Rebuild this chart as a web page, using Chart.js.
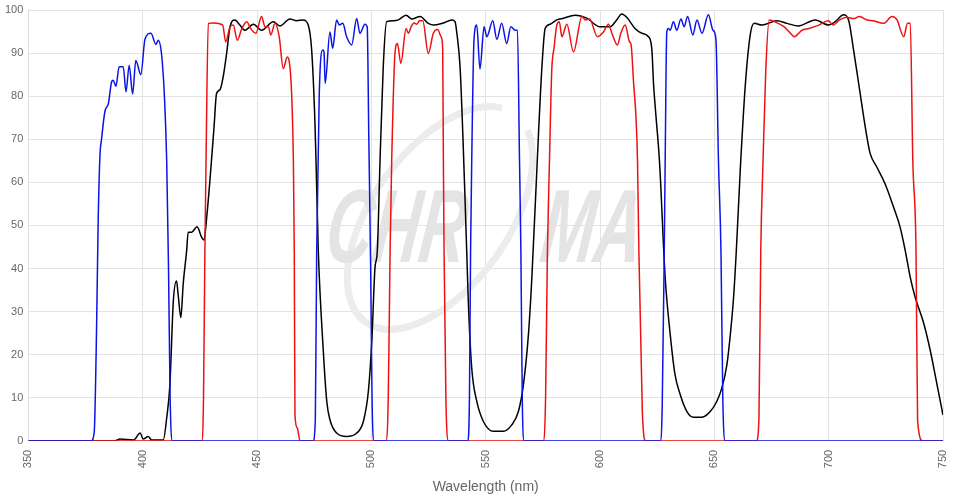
<!DOCTYPE html>
<html>
<head>
<meta charset="utf-8">
<script src="https://cdn.jsdelivr.net/npm/chart.js@4.4.1/dist/chart.umd.min.js"></script>
<style>
  html, body { margin: 0; padding: 0; background: #fff; }
  #wrap { width: 957px; height: 501px; }
</style>
</head>
<body>
<div id="wrap"><canvas id="spectrumChart"></canvas></div>
<script>
// transmission curves, wavelength (nm) / transmission (%)
const blueWl = [350, 377.5, 378.8, 379.8, 380.5, 381.3, 382, 383.5, 385, 386.4, 387.1, 388.3, 389.7, 391.5, 392.7, 394.1, 395.6, 397, 399.2, 401, 403.6, 405.8, 406.8, 408.3, 409.5, 410.5, 411.3, 412, 413,
  474.5, 475.5, 476.1, 477.2, 478.7, 479.3, 479.8, 481.9, 483.1, 484.8, 486, 487.5, 489.2, 491.4, 493.6, 495, 497.2, 498.2, 498.9, 499.7, 500.3, 501.2,
  542.2, 542.9, 543.4, 543.9, 544.9, 546.1, 547.5, 549.3, 550.5, 553.1, 554.9, 557, 559.2, 561, 562.9, 563.9, 564.8, 565.4, 566, 566.8,
  626.4, 627.2, 628.1, 628.5, 629.2, 629.9, 630.7, 632.1, 633.6, 635.4, 636.8, 638.3, 640.6, 642.4, 644.6, 647.4, 649.4, 650.7, 651.8, 652.9, 653.7, 654.7, 750];
const blueT = [0, 0, 2, 25, 50, 66, 70, 76.5, 78.3, 83.3, 83.7, 82.3, 86.8, 86.8, 81, 87.2, 80.5, 88.3, 85, 93.2, 94.6, 92, 93, 89.5, 80, 65, 40, 10, 0,
  0, 5, 44, 80, 90.7, 90.3, 83, 94.9, 91.1, 97.7, 96.5, 96.9, 93.8, 91.9, 98, 94.6, 96.7, 96, 70, 40, 10, 0,
  0, 10, 44, 65, 93.2, 96.5, 86.3, 96.1, 93.8, 97.5, 93.2, 96.9, 92.2, 96.1, 95.3, 95.3, 65, 44, 10, 0,
  0, 8, 44, 65, 94.9, 95.7, 95.3, 97.3, 95.3, 97.9, 96.1, 98.5, 94.2, 97.7, 94.6, 98.9, 95.3, 93.2, 65, 44, 10, 0, 0];

const redWl = [350, 425.8, 426.6, 427.2, 427.7, 428.7, 430.9, 435, 436.3, 438.2, 439.6, 441.4, 443.3, 445.5, 447.2, 449.5, 452, 453.5, 455, 456, 457.9, 459.7, 461.5, 463.2, 464.1, 465.9, 466.3, 466.6, 467.6, 468.8,
  506.4, 507.4, 508.2, 508.9, 510.4, 511.4, 512.9, 515.2, 516.2, 517.4, 518.7, 519.9, 521, 522.5, 524.9, 527.1, 529, 530.5, 531.2, 531.5, 531.8, 532.6, 533.7,
  575.2, 576.2, 577, 577.9, 578.9, 579.9, 581.1, 582.2, 583.3, 585.5, 588.4, 592.1, 593.5, 595.4, 598.9, 601.5, 603.7, 605.2, 607.6, 609.1, 611, 612.9, 613.6, 614.7, 615.8, 616.4, 617, 618.5, 620,
  668.4, 669.5, 670.3, 671.3, 672.5, 674, 676.2, 680.6, 682.8, 685, 688.3, 691.4, 695.7, 699.8, 701.9, 704.8, 707.9, 710.9, 713.5, 716.7, 719.6, 724, 727.7, 729.9, 732.8, 734.5, 735.7, 736.8, 738.2, 738.9, 741.2, 750];
const redT = [0, 0, 10, 44, 65, 96.9, 97, 96.5, 92.6, 96.1, 96.5, 93, 95.6, 97.3, 95.7, 94.6, 98.5, 96.1, 96.1, 94.2, 96.9, 93.8, 86.4, 89.1, 88, 65, 44, 6, 3, 0,
  0, 10, 44, 65, 90.3, 92.2, 87.6, 95.7, 94.6, 96.1, 97, 96.7, 97.5, 97.5, 89.9, 94.6, 95.5, 93.8, 91.2, 65, 44, 10, 0,
  0, 10, 44, 65, 86, 91.2, 96.5, 97.3, 93.8, 96.7, 90.3, 98.5, 97.7, 97.9, 93.8, 94.9, 96.7, 94.6, 91.9, 94.6, 96.5, 92.6, 91.9, 83, 74.4, 65, 44, 7, 0,
  0, 5, 44, 65, 86, 97.7, 97.3, 96.1, 94.9, 93.8, 95.3, 95.7, 96.5, 97.5, 96.5, 97.7, 98.3, 98, 98.5, 97.7, 97.5, 96.9, 98.5, 97.7, 93.8, 96.9, 96.9, 65, 44, 4.5, 0, 0];

const blackWl = [350, 388, 390, 396, 398.9, 400.2, 402.4, 403.9, 409, 410.5, 411.9, 413.4, 414.8, 415.5, 416.7, 417.7, 419.2, 419.9, 421.4, 423.8, 425.8, 426.8, 428, 429.4, 431.2, 432.3, 433.8, 435.2, 436.7, 438.2, 440.3, 442.5, 444.7, 448.4, 452, 457.1, 460, 464.4, 467.3, 470.2, 472.4, 473.9, 475.3, 475.8, 476.8,
  479, 480.5, 481.9, 484.8, 489.2, 493.6, 496.5, 498.7, 500.2, 501.6, 502.6, 503.8, 505.2, 506.7, 509.6, 511.8, 515.2, 517.7, 521.3, 524.9, 527.1, 531.5, 535.2, 536.6, 537.4, 538.8, 540, 541, 541.7,
  542.4, 543.9, 546.1, 549, 553.4, 557.7, 561.4, 564.3, 566.5, 568.7, 570.2, 573.1, 574.6, 576, 578.2, 581.1, 584, 589.1, 594.2, 600, 604.4, 607.3, 609.5, 611.7, 615.3, 618.3, 621.2, 622.7, 623.4, 624.5, 626,
  628.5, 630.7, 632.8, 635.1, 638, 640.9, 644.6, 648.2, 651.1, 653.3, 655.5, 657, 658.4, 659.6, 661.4, 663.6, 665.8, 667.5, 670.8, 677.4, 681.8, 686.8, 694.1, 700, 702.9, 706.5, 708.7, 710.9, 713.1, 715.3, 717, 718.2, 721.1, 724.7, 728.4, 731.3, 733.5, 735.7, 737.9, 741.5, 744.5, 747.4, 750];
const blackT = [0, 0, 0.4, 0.2, 1.8, 0.4, 1, 0.2, 0.2, 5.3, 13, 32.4, 37.1, 34, 28.6, 36.3, 44, 48.4, 48.4, 49.7, 47.2, 46.6, 51.9, 60.4, 72.8, 80.6, 81.5, 84.5, 89.9, 96.1, 97.7, 96.5, 95.3, 96.7, 95.3, 97.3, 96.3, 97.9, 97.5, 97.7, 96.5, 90.7, 74.4, 65, 44.1,
  20.8, 9.2, 4.9, 1.8, 1, 1.8, 4.5, 11.5, 23.1, 40.2, 44, 65, 86.8, 97.3, 97.5, 97.7, 98.8, 97.9, 98.5, 96.9, 96.5, 97, 97.7, 97.3, 94.6, 86.8, 71.3, 55.7, 44.1,
  32.4, 16.9, 9.2, 4.5, 2.2, 2.2, 3.7, 6.8, 13, 24.7, 37.9, 71.3, 86.8, 95.7, 96.7, 97.7, 98.1, 98.8, 98.1, 96.1, 96.1, 97.7, 99.1, 98.3, 95.7, 94.6, 93.8, 90.7, 83, 75.2, 65,
  37.9, 24.7, 15.4, 10.7, 6.8, 5.5, 5.5, 6.8, 9.2, 12.3, 17.7, 24.7, 33.2, 44, 63.5, 83, 94.6, 96.9, 96.5, 97.5, 96.9, 96.3, 97.7, 96.5, 97.3, 98.9, 97.7, 90.7, 83, 75.2, 69.7, 66.6, 63.5, 59.6, 54.2, 49.5, 44.1, 37.9, 33.2, 27.4, 20.8, 13, 6];

const xTicks = [350, 400, 450, 500, 550, 600, 650, 700, 750];

function toPoints(wl, t) {
  return wl.map((w, i) => ({ x: w, y: t[i] }));
}

// faint logo behind the curves
const watermark = {
  id: 'watermark',
  beforeDatasetsDraw(chart) {
    const c = chart.ctx;
    c.save();
    c.strokeStyle = '#ececec';
    c.lineWidth = 7;
    c.beginPath();
    c.ellipse(440, 218, 128, 68, -0.95, 0.3, 2 * Math.PI - 0.2);
    c.stroke();
    c.fillStyle = '#e4e4e4';
    c.font = 'italic bold 104px "Liberation Sans"';
    c.textBaseline = 'alphabetic';
    c.setTransform(0.62, 0, -0.12, 1, 0, 0);
    c.fillText('CHR', 330 / 0.62 + 40, 262);
    c.fillText('MA', 545 / 0.62 + 40, 262);
    c.setTransform(1, 0, 0, 1, 0, 0);
    c.font = '14px "Liberation Sans"';
    c.fillText('\u00AE', 626, 204);
    c.restore();
  }
};

const ctx = document.getElementById('spectrumChart').getContext('2d');
const spectrumChart = new Chart(ctx, {
  type: 'scatter',
  data: {
    datasets: [
      { data: toPoints(blueWl, blueT), borderColor: '#0a14e6' },
      { data: toPoints(redWl, redT), borderColor: '#ee1111' },
      { data: toPoints(blackWl, blackT), borderColor: '#000000' }
    ]
  },
  options: {
    responsive: true,
    maintainAspectRatio: false,
    animation: false,
    layout: { padding: { left: 0, right: 0, top: 0, bottom: 5 } },
    elements: {
      point: { radius: 0 },
      line: { borderWidth: 1.5, cubicInterpolationMode: 'monotone' }
    },
    datasets: { scatter: { showLine: true } },
    plugins: {
      legend: { display: false },
      tooltip: { enabled: false }
    },
    scales: {
      x: {
        type: 'linear',
        min: 350,
        max: 750,
        afterBuildTicks: (axis) => { axis.ticks = xTicks.map(v => ({ value: v })); },
        afterFit: (axis) => { axis.paddingRight = 14; },
        ticks: { minRotation: 90, maxRotation: 90, padding: 9, color: '#666', font: { family: 'Liberation Sans', size: 11 } },
        grid: { color: '#e3e3e3', drawTicks: false },
        border: { color: '#dcdcdc' },
        title: { display: true, text: 'Wavelength (nm)', color: '#666', font: { family: 'Liberation Sans', size: 14 }, padding: { top: 2, bottom: 0 } }
      },
      y: {
        min: 0,
        max: 100,
        afterFit: (axis) => { axis.paddingTop = 10; },
        ticks: { stepSize: 10, padding: 5, color: '#666', font: { family: 'Liberation Sans', size: 11 } },
        grid: { color: '#e3e3e3', drawTicks: false },
        border: { color: '#dcdcdc' }
      }
    }
  },
  plugins: [watermark]
});
</script>
</body>
</html>
